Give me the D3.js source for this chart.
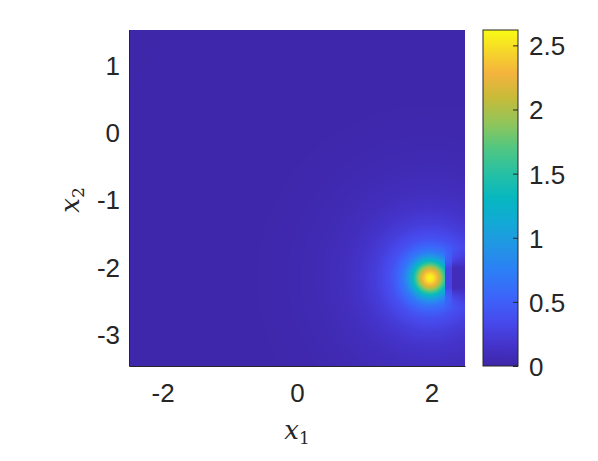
<!DOCTYPE html>
<html>
<head>
<meta charset="utf-8">
<script src="https://cdn.jsdelivr.net/npm/d3@7"></script>
<style>
  body { margin: 0; background: #fff; }
  svg { display: block; }
  .tick text { font-family: "Liberation Sans", Arial, sans-serif; fill: #262626; }
</style>
</head>
<body>
<script>
// axis limits and ticks
const xDomain = [-2.5, 2.5];
const yDomain = [-3.5, 1.5];
const cDomain = [0, 2.62];
const xTicks = [-2, 0, 2];
const yTicks = [-3, -2, -1, 0, 1];
const cTicks = [0, 0.5, 1, 1.5, 2, 2.5];

// peak location and radial profile
const peakXY = [1.98, -2.19];
const profileR = [0, 0.05, 0.1, 0.15, 0.2, 0.25, 0.3, 0.35, 0.4, 0.5, 0.6, 0.8, 1.0, 1.3, 1.7, 2.2, 3.0, 7.0];
const profileV = [2.6, 2.53, 2.33, 2.05, 1.7, 1.35, 1.05, 0.85, 0.68, 0.5, 0.38, 0.25, 0.17, 0.1, 0.055, 0.025, 0.01, 0.005];
// sharp drop on the right of the peak (only in the rows around it)
const cutX = [2.2, 2.3];
const cutCap = [0.3, 0.08];
const cutBand = [0.15, 0.45];

// parula colour stops
const parulaPos = [0, 0.06, 0.13, 0.2, 0.28, 0.36, 0.43, 0.5, 0.57, 0.65, 0.72, 0.8, 0.87, 0.93, 1];
const parulaCol = ["#3e26a8", "#4433c9", "#4749ec", "#3d63fa", "#2d7ef6", "#2196e4", "#12aad5", "#06b7c0",
                   "#25c0a6", "#52c781", "#8fc55b", "#c8bb38", "#f4b33e", "#f6d32c", "#f9fb15"];

const W = 598, H = 461;
const plot = { left: 129, right: 465, top: 30, bottom: 366 };
const cbar = { left: 483, right: 518 };
const fontSize = 26;

const svg = d3.select("body").append("svg").attr("width", W).attr("height", H);

const x = d3.scaleLinear().domain(xDomain).range([plot.left, plot.right]);
const y = d3.scaleLinear().domain(yDomain).range([plot.bottom, plot.top]);
const c = d3.scaleLinear().domain(cDomain).range([plot.bottom, plot.top]);
const profile = d3.scaleLinear().domain(profileR).range(profileV).clamp(true);
const band = d3.scaleLinear().domain(cutBand).range([0, 1]).clamp(true);
const color = d3.scaleLinear().domain(parulaPos.map(p => cDomain[0] + p * (cDomain[1] - cDomain[0])))
    .range(parulaCol).interpolate(d3.interpolateRgb).clamp(true);

// heat map drawn pixel by pixel on a canvas, then placed in the svg
const pw = plot.right - plot.left, ph = plot.bottom - plot.top;
const canvas = document.createElement("canvas");
canvas.width = pw; canvas.height = ph;
const ctx = canvas.getContext("2d");
const img = ctx.createImageData(pw, ph);
for (let j = 0; j < ph; j++) {
    for (let i = 0; i < pw; i++) {
        const dx = x.invert(plot.left + i + 0.5), dy = y.invert(plot.top + j + 0.5);
        let v = profile(Math.hypot(dx - peakXY[0], dy - peakXY[1]));
        if (dx > cutX[0]) {
            const cap = dx > cutX[1] ? cutCap[1] : cutCap[0];
            const w = band(Math.abs(dy - peakXY[1]));
            v = Math.min(v, cap) * (1 - w) + v * w;
        }
        const col = d3.rgb(color(v));
        const k = (j * pw + i) * 4;
        img.data[k] = col.r; img.data[k + 1] = col.g; img.data[k + 2] = col.b; img.data[k + 3] = 255;
    }
}
ctx.putImageData(img, 0, 0);
svg.append("image").attr("x", plot.left).attr("y", plot.top).attr("width", pw).attr("height", ph)
    .attr("preserveAspectRatio", "none").attr("href", canvas.toDataURL());

// axes
const gx = svg.append("g").attr("transform", `translate(0,${plot.bottom})`)
    .call(d3.axisBottom(x).tickValues(xTicks).tickSize(0).tickPadding(18).tickFormat(d => String(d)));
gx.select(".domain").attr("stroke", "#262626");
gx.selectAll("text").attr("font-size", fontSize);

const gy = svg.append("g").attr("transform", `translate(${plot.left},0)`)
    .call(d3.axisLeft(y).tickValues(yTicks).tickSize(0).tickPadding(9).tickFormat(d => String(d)));
gy.select(".domain").attr("stroke", "#262626");
gy.selectAll("text").attr("font-size", fontSize).attr("dy", "0.42em");

// axis titles
const xt = svg.append("text").attr("x", 297).attr("y", 439).attr("text-anchor", "middle")
    .attr("font-family", "'DejaVu Serif', 'Liberation Serif', serif").attr("fill", "#262626");
xt.append("tspan").attr("font-style", "italic").attr("font-size", 26).text("x");
xt.append("tspan").attr("font-size", 17).attr("dy", 5).text("1");

const yt = svg.append("text").attr("transform", "translate(79,200) rotate(-90)").attr("text-anchor", "middle")
    .attr("font-family", "'DejaVu Serif', 'Liberation Serif', serif").attr("fill", "#262626");
yt.append("tspan").attr("font-style", "italic").attr("font-size", 26).text("x");
yt.append("tspan").attr("font-size", 17).attr("dy", 5).text("2");

// colour bar
const defs = svg.append("defs");
const grad = defs.append("linearGradient").attr("id", "parula").attr("x1", 0).attr("y1", 1).attr("x2", 0).attr("y2", 0);
grad.selectAll("stop").data(parulaPos).join("stop")
    .attr("offset", d => d).attr("stop-color", (d, i) => parulaCol[i]);
svg.append("rect").attr("x", cbar.left).attr("y", plot.top).attr("width", cbar.right - cbar.left)
    .attr("height", ph).attr("fill", "url(#parula)").attr("stroke", "#262626").attr("stroke-width", 1);

const gc = svg.append("g").attr("transform", `translate(${cbar.right},0)`)
    .call(d3.axisRight(c).tickValues(cTicks).tickSize(-5).tickPadding(11).tickFormat(d => d));
gc.select(".domain").remove();
gc.selectAll(".tick line").attr("stroke", "#262626");
gc.selectAll("text").attr("font-size", fontSize).attr("dy", "0.36em");
</script>
</body>
</html>
